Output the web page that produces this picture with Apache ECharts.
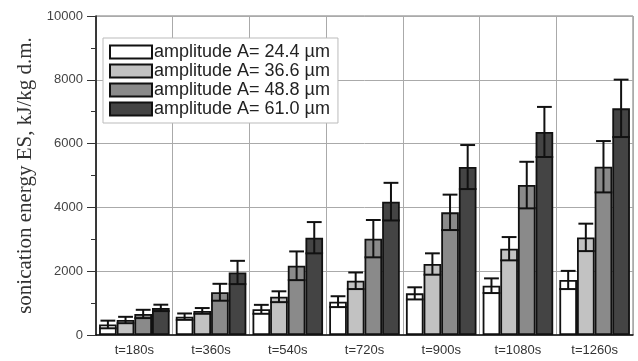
<!DOCTYPE html>
<html>
<head>
<meta charset="utf-8">
<script src="https://cdn.jsdelivr.net/npm/echarts@6/dist/echarts.min.js"></script>
<style>
  html, body { margin: 0; padding: 0; background: #fff; }
  #chart { width: 638px; height: 361px; }
</style>
</head>
<body>
<div id="chart"></div>
<script>
const categories = ["t=180s", "t=360s", "t=540s", "t=720s", "t=900s", "t=1080s", "t=1260s"];
const seriesNames = ["amplitude A= 24.4 µm", "amplitude A= 36.6 µm", "amplitude A= 48.8 µm", "amplitude A= 61.0 µm"];
const colors = ["#ffffff", "#c2c2c2", "#8a8a8a", "#444444"];

// mean sonication energy, kJ/kg d.m.
const amp244 = [330, 575, 805, 1045, 1305, 1545, 1725];
const amp366 = [470, 755, 1200, 1700, 2225, 2705, 3060];
const amp488 = [660, 1340, 2170, 3020, 3845, 4700, 5275];
const amp610 = [850, 1960, 3050, 4180, 5265, 6365, 7105];

// error (+/-)
const err244 = [120, 100, 140, 170, 190, 230, 285];
const err366 = [100, 90, 170, 260, 335, 365, 430];
const err488 = [130, 265, 450, 585, 555, 730, 805];
const err610 = [100, 365, 490, 590, 690, 785, 900];

const values = [amp244, amp366, amp488, amp610];
const errors = [err244, err366, err488, err610];

const catGap = 0.08;

const chart = echarts.init(document.getElementById("chart"));

const barSeries = seriesNames.map((name, i) => ({
  name: name,
  type: "bar",
  data: values[i],
  barGap: "0%",
  barCategoryGap: catGap * 100 + "%",
  itemStyle: { color: colors[i], borderColor: "#111", borderWidth: 1.8 },
  z: 2
}));

const errSeries = seriesNames.map((name, i) => ({
  type: "custom",
  name: name + " err",
  data: values[i].map((v, k) => [k, v - errors[i][k], v + errors[i][k]]),
  z: 5,
  silent: true,
  renderItem: function (params, api) {
    const cat = api.value(0);
    const low = api.coord([cat, api.value(1)]);
    const high = api.coord([cat, api.value(2)]);
    const catW = api.size([1, 0])[0];
    const barW = catW * (1 - catGap) / 4;
    const x = low[0] + (i - 1.5) * barW;
    const capHi = barW * 0.42;
    const capLo = barW * 0.5;
    const style = { stroke: "#111", lineWidth: 2 };
    return {
      type: "group",
      children: [
        { type: "line", shape: { x1: x, y1: low[1], x2: x, y2: high[1] }, style: style },
        { type: "line", shape: { x1: x - capHi, y1: high[1], x2: x + capHi, y2: high[1] }, style: style },
        { type: "line", shape: { x1: x - capLo, y1: low[1], x2: x + capLo, y2: low[1] }, style: style }
      ]
    };
  }
}));

const option = {
  animation: false,
  backgroundColor: "#ffffff",
  grid: {
    left: 96, right: 5, top: 16, bottom: 26,
    show: true, borderColor: "#777", borderWidth: 1
  },
  legend: {
    data: seriesNames,
    orient: "vertical",
    left: 103, top: 38,
    icon: "rect",
    itemWidth: 42, itemHeight: 13,
    itemGap: 1,
    padding: [5, 8, 5, 6],
    backgroundColor: "#ffffff",
    borderColor: "#bbb",
    borderWidth: 1,
    borderRadius: 0,
    textStyle: { fontFamily: "Liberation Sans, Arial", fontSize: 18, lineHeight: 14, color: "#222", padding: [0, 0, 0, -3] },
    itemStyle: { borderColor: "#111", borderWidth: 2 }
  },
  xAxis: {
    type: "category",
    data: categories,
    axisLine: { lineStyle: { color: "#111", width: 1.5 } },
    axisTick: { alignWithLabel: true, length: 6, lineStyle: { color: "#111" } },
    axisLabel: { fontFamily: "Liberation Sans, Arial", fontSize: 13, color: "#333", margin: 9 },
    splitLine: { show: true, lineStyle: { color: "#aaa", width: 1 } }
  },
  yAxis: {
    type: "value",
    min: 0, max: 10000, interval: 2000,
    name: "sonication energy ES, kJ/kg d.m.",
    nameLocation: "middle",
    nameGap: 58,
    nameTextStyle: { fontFamily: "Liberation Serif, Times New Roman", fontSize: 21, color: "#333" },
    axisLine: { show: true, lineStyle: { color: "#111", width: 1.5 } },
    axisTick: { show: true, length: 9, lineStyle: { color: "#333" } },
    minorTick: { show: true, splitNumber: 2, length: 5, lineStyle: { color: "#333" } },
    axisLabel: {
      fontFamily: "Liberation Sans, Arial", fontSize: 13, color: "#444", margin: 13,
      formatter: (v) => String(v)
    },
    splitLine: { show: true, lineStyle: { color: "#aaa", width: 1 } }
  },
  series: barSeries.concat(errSeries)
};

chart.setOption(option);
</script>
</body>
</html>
